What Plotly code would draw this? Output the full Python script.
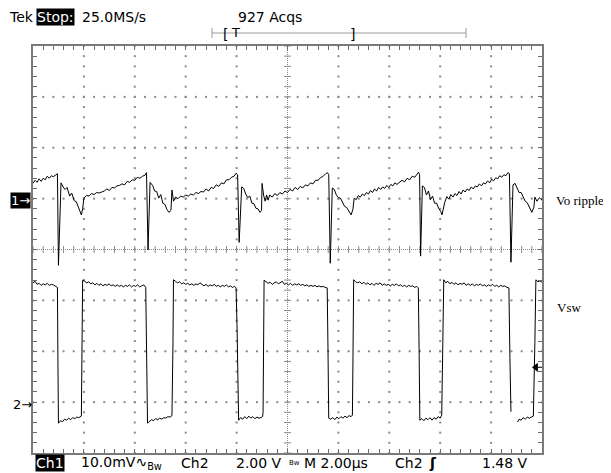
import plotly.graph_objects as go

# Ch1: output ripple, time in microseconds, value in mV
ch1_t = [0.00,0.08,0.16,0.24,0.32,0.40,0.48,0.56,0.64,0.72,0.80,0.90,0.96,
         1.00,1.10,1.18,1.26,1.34,1.44,1.52,1.62,1.70,1.80,1.90,1.95,2.00,
         2.10,2.20,2.30,2.40,2.50,2.60,2.70,2.80,2.90,3.00,3.10,3.20,3.30,3.40,3.50,3.60,3.70,3.80,3.90,4.00,4.10,4.20,4.30,4.40,4.46,
         4.49,4.52,4.60,
         4.70,4.78,4.86,4.94,5.02,5.10,5.18,5.26,5.34,5.42,5.46,5.52,
         5.60,5.70,5.80,5.90,6.00,6.10,6.20,6.30,6.40,6.50,6.60,6.70,6.80,6.90,7.00,7.10,7.20,7.30,7.40,7.50,7.60,7.70,7.80,7.90,7.98,
         8.04,8.10,8.20,
         8.28,8.36,8.44,8.52,8.60,8.68,8.76,8.84,8.92,8.98,9.00,9.06,9.12,9.18,9.24,
         9.30,9.40,9.50,9.60,9.70,9.80,9.90,10.00,10.10,10.20,10.30,10.40,10.50,10.60,10.70,10.80,10.90,11.00,11.10,11.20,11.30,11.40,11.50,11.57,
         11.62,11.68,11.76,
         11.84,11.92,12.00,12.08,12.16,12.24,12.32,12.40,12.50,12.57,12.62,
         12.70,12.78,12.86,12.94,13.02,13.10,13.18,13.26,13.34,13.42,13.50,13.58,13.66,13.74,13.82,13.90,13.98,14.06,14.14,14.22,14.30,14.40,14.50,14.60,14.70,14.80,14.90,15.00,15.10,15.15,
         15.19,15.23,15.30,
         15.38,15.46,15.54,15.62,15.70,15.78,15.86,15.94,16.02,16.07,
         16.12,16.18,16.26,16.34,16.42,16.50,16.58,16.66,16.74,16.82,16.90,16.98,17.06,17.14,17.22,17.30,17.38,17.46,17.54,17.62,17.70,17.78,17.86,17.94,18.02,18.10,18.18,18.26,18.34,18.42,18.50,18.58,18.66,
         18.72,18.78,18.86,
         18.94,19.02,19.10,19.18,19.26,19.34,19.42,19.50,19.60,19.68,19.72,19.80,19.90,20.00]
ch1_mv = [3.3,3.9,3.5,4.2,3.7,4.3,4.0,4.7,4.3,4.8,4.6,5.1,5.2,
          -12.8,3.4,2.6,2.1,2.5,0.8,1.4,-0.1,-0.3,-1.6,-2.9,-1.7,0.4,
          0.9,0.8,1.3,1.1,1.5,1.4,1.6,1.8,2.2,1.9,2.5,2.4,2.8,2.9,3.2,3.0,3.7,3.5,4.0,3.9,4.5,4.3,4.7,4.9,5.4,
          -6.3,-9.8,3.5,
          2.9,1.8,1.7,0.4,1.1,-0.6,-0.8,-1.8,-2.4,-2.0,2.0,-0.2,
          0.6,0.3,0.8,0.6,1.0,0.8,1.2,1.0,1.5,1.3,1.7,1.6,2.2,1.8,2.5,2.3,3.0,2.7,3.4,3.2,4.0,4.0,4.5,4.7,5.3,
          5.0,-8.3,2.6,
          2.3,1.2,0.5,0.8,-0.6,-0.7,-1.6,-1.7,-2.4,-2.0,3.3,1.0,-0.2,1.0,0.0,
          1.0,0.6,1.3,0.9,1.5,1.2,1.8,1.5,2.1,1.8,2.5,2.1,2.7,2.4,3.0,2.8,3.4,3.2,3.9,3.9,4.4,4.7,5.2,5.4,
          5.0,-12.4,2.4,
          2.1,1.0,0.5,0.4,-0.3,-1.2,-1.4,-2.2,-2.9,-1.8,0.4,
          0.1,0.9,0.6,1.2,0.9,1.5,1.2,1.9,1.5,2.2,1.8,2.5,2.1,2.6,2.3,2.9,2.5,3.1,2.8,3.4,3.1,3.5,3.9,3.6,4.3,4.0,4.7,4.5,5.2,5.5,
          5.0,-11.0,2.8,
          2.5,1.0,1.8,0.1,0.8,-0.6,-0.6,-1.6,-2.2,-2.9,
          -1.6,-0.4,0.7,0.2,1.1,0.6,1.3,0.9,1.7,1.2,2.0,1.6,2.2,1.9,2.6,2.2,2.8,2.6,3.2,2.8,3.4,3.2,3.8,3.4,4.1,3.8,4.4,4.2,4.8,4.5,5.0,4.8,5.4,
          5.2,-12.2,3.0,
          3.3,2.4,1.5,1.5,0.6,-0.2,-0.5,-1.5,-2.4,-1.4,0.6,-0.2,0.5,0.0]

# Ch2: switch node voltage, time in microseconds, value in V (None = gap in record)
ch2_t = [0.00,0.08,0.16,0.24,0.32,0.40,0.48,0.56,0.64,0.72,0.80,0.90,0.96,
         0.98,1.00,
         1.08,1.16,1.24,1.32,1.40,1.48,1.56,1.64,1.72,1.80,1.90,
         1.93,1.95,
         2.03,2.11,2.19,2.27,2.35,2.43,2.51,2.59,2.67,2.75,2.83,2.91,2.99,3.07,3.15,3.23,3.31,3.39,3.47,3.55,3.63,3.71,3.79,3.87,3.95,4.03,4.11,4.19,4.27,4.35,4.43,
         4.48,4.50,
         4.58,4.66,4.74,4.82,4.90,4.98,5.06,5.14,5.22,5.30,5.38,5.46,
         5.50,5.52,
         5.60,5.68,5.76,5.84,5.92,6.00,6.08,6.16,6.24,6.32,6.40,6.48,6.56,6.64,6.72,6.80,6.88,6.96,7.04,7.12,7.20,7.28,7.36,7.44,7.52,7.60,7.68,7.76,7.84,7.92,7.98,
         8.02,8.05,8.08,
         8.16,8.24,8.32,8.40,8.48,8.56,8.64,8.72,8.80,8.88,8.96,9.02,
         9.04,9.06,9.08,
         9.16,9.24,9.32,9.40,9.48,9.56,9.64,9.72,9.80,9.88,9.96,10.04,10.12,10.20,10.28,10.36,10.44,10.52,10.60,10.68,10.76,10.84,10.92,11.00,11.08,11.16,11.24,11.32,11.40,11.48,11.56,
         11.59,11.62,
         11.70,11.78,11.86,11.94,12.02,12.10,12.18,12.26,12.34,12.42,12.50,12.55,
         12.57,12.60,
         12.68,12.76,12.84,12.92,13.00,13.08,13.16,13.24,13.32,13.40,13.48,13.56,13.64,13.72,13.80,13.88,13.96,14.04,14.12,14.20,14.28,14.36,14.44,14.52,14.60,14.68,14.76,14.84,14.92,15.00,15.08,15.14,
         15.17,15.20,
         15.28,15.36,15.44,15.52,15.60,15.68,15.76,15.84,15.92,16.00,16.06,
         16.11,16.14,
         16.22,16.30,16.38,16.46,16.54,16.62,16.70,16.78,16.86,16.94,17.02,17.10,17.18,17.26,17.34,17.42,17.50,17.58,17.66,17.74,17.82,17.90,17.98,18.06,18.14,18.22,18.30,18.38,18.46,18.54,18.62,18.70,
         18.74,18.78,None,
         19.04,19.10,19.18,19.26,19.34,19.42,19.50,19.60,19.66,
         19.72,19.76,
         19.84,19.92,20.00]
ch2_v = [4.80,4.86,4.74,4.78,4.70,4.76,4.72,4.78,4.70,4.74,4.72,4.66,4.62,
         1.65,-0.72,
         -0.62,-0.66,-0.56,-0.60,-0.52,-0.58,-0.50,-0.54,-0.48,-0.50,-0.44,
         2.44,4.90,
         4.86,4.80,4.84,4.76,4.80,4.72,4.78,4.70,4.76,4.68,4.74,4.70,4.76,4.68,4.72,4.66,4.72,4.66,4.70,4.64,4.70,4.66,4.72,4.64,4.70,4.66,4.72,4.64,4.68,4.72,4.62,
         1.65,-0.72,
         -0.64,-0.58,-0.62,-0.54,-0.58,-0.52,-0.56,-0.50,-0.52,-0.46,-0.48,-0.42,
         2.44,4.92,
         4.86,4.80,4.84,4.76,4.80,4.74,4.78,4.72,4.76,4.70,4.76,4.72,4.80,4.72,4.68,4.74,4.66,4.72,4.68,4.74,4.66,4.70,4.64,4.70,4.66,4.72,4.64,4.68,4.62,4.66,4.60,
         2.94,0.31,-0.60,
         -0.50,-0.56,-0.46,-0.54,-0.44,-0.52,-0.46,-0.54,-0.48,-0.52,-0.50,-0.46,
         -0.30,2.75,4.90,
         4.84,4.78,4.82,4.74,4.80,4.84,4.76,4.80,4.86,4.74,4.78,4.72,4.78,4.70,4.76,4.72,4.76,4.70,4.74,4.68,4.72,4.66,4.70,4.66,4.70,4.64,4.68,4.64,4.66,4.62,4.60,
         2.24,-0.52,
         -0.56,-0.50,-0.58,-0.48,-0.54,-0.46,-0.52,-0.44,-0.50,-0.42,-0.46,-0.40,
         1.57,4.92,
         4.84,4.80,4.84,4.76,4.82,4.74,4.80,4.72,4.78,4.70,4.78,4.74,4.80,4.70,4.76,4.70,4.74,4.68,4.74,4.70,4.76,4.68,4.72,4.66,4.70,4.64,4.70,4.66,4.68,4.62,4.66,4.60,
         2.24,-0.60,
         -0.54,-0.62,-0.52,-0.58,-0.50,-0.60,-0.50,-0.56,-0.46,-0.52,-0.40,
         2.36,4.92,
         4.80,4.86,4.76,4.82,4.74,4.80,4.72,4.78,4.74,4.80,4.70,4.76,4.70,4.76,4.68,4.74,4.70,4.76,4.68,4.72,4.66,4.72,4.68,4.74,4.66,4.70,4.64,4.70,4.66,4.68,4.62,4.60,
         1.85,-0.27,None,
         -0.67,-0.56,-0.60,-0.50,-0.56,-0.48,-0.52,-0.46,-0.44,
         2.44,4.92,
         4.84,4.88,4.82]

# scope settings
CH1_MV_PER_DIV = 10.0
CH2_V_PER_DIV = 2.00
CH1_POSITION = 0.97      # divisions above centre
CH2_POSITION = -3.055    # divisions
TRIGGER_LEVEL_V = 1.48
US_PER_DIV = 2.0
H_DIVS, V_DIVS = 10, 8

# ---------------- geometry helpers ----------------
# The page places the figure 8 px in from the window corner (default body margin),
# so every window-pixel position is shifted by OFF.
OFF = 8
WIN_W, WIN_H = 611, 473
L, R, T, B = 33, 542, 46, 453          # graticule box in window pixels
W, H = WIN_W - OFF, WIN_H - OFF
def px(x):
    return (x - L) / (R - L)
def py(y):
    return (B - y) / (B - T)

ch1_y = [CH1_POSITION + v / CH1_MV_PER_DIV for v in ch1_mv]
ch2_y = [None if v is None else CH2_POSITION + v / CH2_V_PER_DIV for v in ch2_v]

GRID = "#8a8a8a"
fig = go.Figure()

# graticule dots on division lines
t_full = US_PER_DIV * H_DIVS
sub_t = [i * US_PER_DIV / 5 for i in range(H_DIVS * 5 + 1)]
sub_y = [-V_DIVS / 2 + i * 0.2 for i in range(V_DIVS * 5 + 1)]
gx, gy = [], []
for k in range(1, H_DIVS):
    if k == H_DIVS // 2:
        continue
    for yy in sub_y:
        gx.append(k * US_PER_DIV); gy.append(yy)
for m in range(1, V_DIVS):
    yv = -V_DIVS / 2 + m
    if yv == 0:
        continue
    for tt in sub_t:
        gx.append(tt); gy.append(yv)
fig.add_trace(go.Scatter(x=gx, y=gy, mode="markers", hoverinfo="skip",
                         marker=dict(symbol="square", size=2, color=GRID, line=dict(width=0))))
# centre-line ticks
fig.add_trace(go.Scatter(x=[t_full / 2] * len(sub_y), y=sub_y, mode="markers", hoverinfo="skip",
                         marker=dict(symbol="line-ew", size=5, line=dict(width=1, color=GRID))))
fig.add_trace(go.Scatter(x=sub_t, y=[0] * len(sub_t), mode="markers", hoverinfo="skip",
                         marker=dict(symbol="line-ns", size=5, line=dict(width=1, color=GRID))))
fig.add_shape(type="line", x0=t_full / 2, x1=t_full / 2, y0=-V_DIVS / 2, y1=V_DIVS / 2,
              line=dict(color=GRID, width=1, dash="1px,1px"), layer="below")
fig.add_shape(type="line", x0=0, x1=t_full, y0=0, y1=0,
              line=dict(color=GRID, width=1, dash="1px,1px"), layer="below")

# waveforms
fig.add_trace(go.Scatter(x=ch1_t, y=ch1_y, mode="lines", line=dict(color="black", width=1), hoverinfo="skip"))
fig.add_trace(go.Scatter(x=ch2_t, y=ch2_y, mode="lines", line=dict(color="black", width=1), hoverinfo="skip",
                         connectgaps=False))

# trigger level arrow on right edge
trig_y = CH2_POSITION + TRIGGER_LEVEL_V / CH2_V_PER_DIV
fig.add_trace(go.Scatter(x=[t_full * 0.988], y=[trig_y], mode="markers", hoverinfo="skip",
                         marker=dict(symbol="triangle-left", size=8, color="black")))
fig.add_shape(type="line", x0=t_full * 0.988, x1=t_full, y0=trig_y, y1=trig_y,
              line=dict(color="black", width=1))

axis_common = dict(showgrid=False, zeroline=False, showline=True, linecolor="#7a7a7a",
                   linewidth=2, mirror="ticks", ticks="inside", ticklen=4, tickwidth=1,
                   tickcolor="#6a6a6a", showticklabels=False, fixedrange=True)
fig.update_xaxes(range=[0, t_full], tick0=0, dtick=US_PER_DIV / 5, **axis_common)
fig.update_yaxes(range=[-V_DIVS / 2, V_DIVS / 2], tick0=0, dtick=0.2, **axis_common)

SANS = "DejaVu Sans"
SERIF = "Liberation Serif"
ann = []
def text(x, y, s, size=14, color="black", bg=None, font=SANS, xanchor="left", yref="paper"):
    d = dict(x=px(x), y=(py(y) if yref == "paper" else y), xref="paper", yref=yref, text=s,
             showarrow=False, xanchor=xanchor, yanchor="middle",
             font=dict(family=font, size=size, color=color), borderpad=0)
    if bg:
        d["bgcolor"] = bg
    ann.append(d)

# header
text(8, 17, "Tek")
text(36, 17, "Stop:", color="white", bg="black")
text(81, 17, "25.0MS/s")
text(237, 17, "927 Acqs")
# trigger position bar
fig.add_shape(type="line", xref="paper", yref="paper", x0=px(212), x1=px(466), y0=py(33), y1=py(33),
              line=dict(color="#9a9a9a", width=1))
for xe in (212, 466):
    fig.add_shape(type="line", xref="paper", yref="paper", x0=px(xe), x1=px(xe), y0=py(28), y1=py(38),
                  line=dict(color="#9a9a9a", width=1))
text(222, 34, "[", size=14)
text(230, 33, "T", size=13)
text(349, 34, "]", size=14)

# footer
text(35, 463, "Ch1", color="white", bg="black")
text(80, 463, "10.0mV∿<sub>Bw</sub>")
text(180, 463, "Ch2")
text(235, 463, "2.00 V")
text(288, 463, "<sub>Bw</sub>", size=10)
text(303, 463, "M 2.00µs")
text(394, 463, "Ch2")
text(428, 463, "<b>ʃ</b>")
text(481, 463, "1.48 V")

# channel markers
text(10, CH1_POSITION, "1→", color="white", bg="black", size=13, yref="y")
text(12, CH2_POSITION, "2→", size=13, yref="y")

# right labels
text(555, 200, "Vo ripple", size=13, font=SERIF)
text(556, 307, "Vsw", size=13, font=SERIF)

fig.update_layout(width=W, height=H,
                  margin=dict(l=L - OFF, r=WIN_W - R, t=T - OFF, b=WIN_H - B),
                  paper_bgcolor="white", plot_bgcolor="white", showlegend=False,
                  annotations=ann)
fig.write_html("out.html")
